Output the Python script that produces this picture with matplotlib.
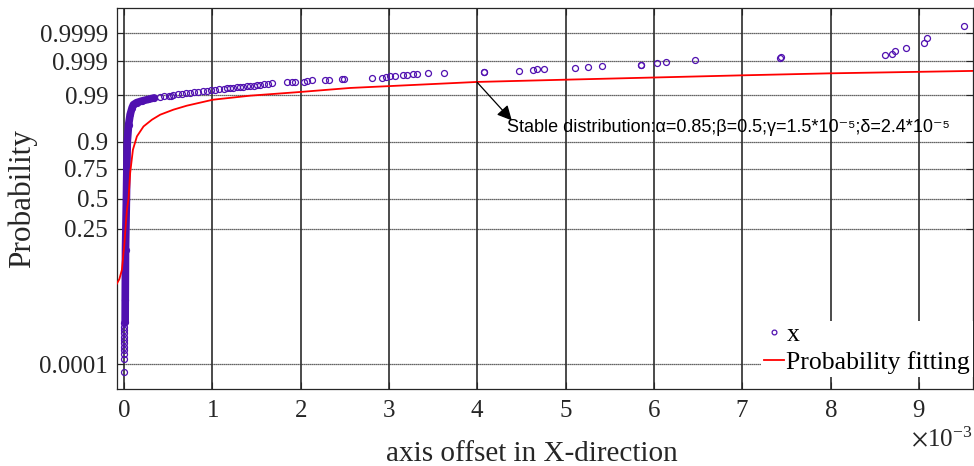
import numpy as np
import matplotlib
matplotlib.use('Agg')
import matplotlib.pyplot as plt
from statistics import NormalDist

# x values in units of 1e-3 (axis offset), y values are probabilities

# lowest observations, stacked near x = 0
low_x = [0.0, 0.0, 0.0, 0.0, 0.0, 0.0, 0.0, 0.0, 0.0, 0.002, 0.002, 0.003]
low_p = [5.1e-5, 1.55e-4, 2.44e-4, 3.4e-4, 4.45e-4, 5.85e-4, 7.57e-4,
         9.74e-4, 1.285e-3, 1.60e-3, 2.03e-3, 2.59e-3]

# dense body of the sample (thousands of overlapping markers)
dense_x = [0.011, 0.012, 0.015, 0.025, 0.035, 0.050, 0.068, 0.090, 0.105,
           0.14, 0.20, 0.27, 0.34]
dense_p = [0.00283, 0.0115, 0.126, 0.49, 0.90, 0.952, 0.971, 0.9797, 0.9828,
           0.9846, 0.9860, 0.9872, 0.9883]

# upper tail, individual points
tail_x = [0.408, 0.455, 0.502, 0.530, 0.558, 0.605, 0.653, 0.700, 0.747,
          0.794, 0.841, 0.889, 0.937, 0.984, 1.031, 1.078, 1.125, 1.160,
          1.200, 1.238, 1.276, 1.313, 1.351, 1.390, 1.427, 1.465, 1.503,
          1.540, 1.578, 1.625, 1.673, 1.843, 1.899, 1.937,
          2.031, 2.069, 2.126, 2.276, 2.325, 2.465, 2.495, 2.805, 2.918,
          2.967, 3.012, 3.069, 3.163, 3.208, 3.270, 3.322, 3.446, 3.624,
          4.070, 4.077, 4.473, 4.628, 4.674, 4.760, 5.108, 5.258, 5.413,
          5.850, 5.855, 6.040, 6.138, 6.463, 7.429, 7.440, 8.622, 8.701,
          8.735, 8.853, 9.060, 9.091, 9.516]
tail_p = [0.98893, 0.98925, 0.98956, 0.98975, 0.98994, 0.99045, 0.99091,
          0.99120, 0.99146, 0.99163, 0.99180, 0.99205, 0.99230, 0.99260,
          0.99290, 0.99312, 0.99334, 0.99348, 0.99362, 0.99374, 0.99386,
          0.99400, 0.99413, 0.99426, 0.99438, 0.99449, 0.99460, 0.99476,
          0.99493, 0.99515, 0.99538, 0.99555,
          0.99557, 0.99560, 0.99567, 0.99584, 0.99610, 0.99628, 0.99630,
          0.99636, 0.99653, 0.99676, 0.99678, 0.99691, 0.99703, 0.99717,
          0.99723, 0.99731, 0.99741, 0.99748, 0.99759, 0.99771, 0.99784,
          0.99781, 0.99801, 0.99810, 0.99819, 0.99828, 0.99840, 0.99848,
          0.99858, 0.99871, 0.99872, 0.99887, 0.99895, 0.99907, 0.99920,
          0.99926, 0.99937, 0.99945, 0.99954, 0.99966, 0.99976, 0.99985,
          0.99995]

# fitted stable distribution CDF
fit_x = [-0.087, -0.055, -0.026, 0.003, 0.020, 0.031, 0.049, 0.068, 0.099,
         0.144, 0.219, 0.314, 0.408, 0.558, 0.710, 1.005, 1.427, 1.993,
         2.559, 3.994, 5.006, 6.995, 7.995, 9.618]
fit_p = [0.0274, 0.0355, 0.055, 0.159, 0.300, 0.400, 0.5, 0.721, 0.865,
         0.9195, 0.948, 0.9622, 0.9706, 0.9774, 0.9818, 0.9870, 0.98975,
         0.9918, 0.99362, 0.99567, 0.99628, 0.99723, 0.99759, 0.99797]

prob_ticks = [0.0001, 0.25, 0.5, 0.75, 0.9, 0.99, 0.999, 0.9999]
prob_labels = ['0.0001', '0.25', '0.5', '0.75', '0.9', '0.99', '0.999', '0.9999']
x_ticks = [0, 1, 2, 3, 4, 5, 6, 7, 8, 9]

annot_text = 'Stable distribution:α=0.85;β=0.5;γ=1.5*10⁻⁵;δ=2.4*10⁻⁵'

purple = '#5010b0'
scale = 1e-3

nd = NormalDist()
_inv_cdf = np.vectorize(nd.inv_cdf, otypes=[float])
_cdf = np.vectorize(nd.cdf, otypes=[float])


def fwd(p):
    p = np.clip(np.asarray(p, dtype=float), 1e-12, 1 - 1e-12)
    return _inv_cdf(p)


def inv(z):
    return _cdf(np.asarray(z, dtype=float))


plt.rcParams['font.family'] = ['Liberation Serif', 'DejaVu Serif']
plt.rcParams['mathtext.fontset'] = 'stix'

fig = plt.figure(figsize=(9.74, 4.66), dpi=100)
ax_h = 389.3 - 8.3
ax_w = 972.7 - 116.5
ax = fig.add_axes([116.5 / 974, 1 - 389.3 / 466, ax_w / 974, ax_h / 466])
ax.set_yscale('function', functions=(fwd, inv))

mk = dict(linestyle='none', marker='o', markersize=4.3, markerfacecolor='none',
          markeredgecolor=purple, markeredgewidth=0.9)

ax.plot(np.array(dense_x) * scale, dense_p, color=purple, lw=5.5,
        solid_capstyle='round', zorder=3)
ax.plot(np.array(dense_x) * scale, dense_p, zorder=3, **mk)
ax.plot(np.array(low_x) * scale, low_p, zorder=3, **mk)
ax.plot(np.array(tail_x) * scale, tail_p, label='x', zorder=3, **mk)
ax.plot(np.array(fit_x) * scale, fit_p, color='red', lw=1.3,
        label='Probability fitting', zorder=4)

ax.set_xlim(-0.087 * scale, 9.61 * scale)
ax.set_ylim(nd.cdf(-4.28), nd.cdf(4.28))

ax.set_yticks(prob_ticks)
ax.set_yticklabels(prob_labels)
ax.set_xticks(np.array(x_ticks) * scale)
ax.minorticks_off()
ax.ticklabel_format(axis='x', style='sci', scilimits=(-3, -3), useMathText=True)

ax.tick_params(direction='in', length=5, width=0.8, top=True, right=True,
               labelsize=18, colors='#262626')
ax.tick_params(axis='y', pad=6)
ax.tick_params(axis='x', pad=8)
ax.xaxis.get_offset_text().set_fontsize(18)
ax.xaxis.get_offset_text().set_color('#262626')

ax.grid(axis='x', color='#1a1a1a', lw=1.1, ls='-')
ax.grid(axis='y', color='#333333', lw=0.9, ls=(0, (1, 0.6)))
ax.set_axisbelow(True)
for s in ax.spines.values():
    s.set_color('#262626')
    s.set_linewidth(0.9)

ax.set_xlabel('axis offset in X-direction', fontsize=21, color='#262626')
ax.xaxis.set_label_coords((532 - 116.5) / ax_w, -(441 - 389.3) / ax_h)
ax.set_ylabel('Probability', fontsize=22.5, color='#262626')
ax.yaxis.set_label_coords(-(116.5 - 37) / ax_w, 0.5)

# arrow from the fitted curve to the parameter text
ax.annotate('', xy=(4.39 * scale, 0.9609), xytext=(3.994 * scale, 0.99567),
            arrowprops=dict(arrowstyle='-|>', color='black', lw=0.9,
                            mutation_scale=22, shrinkA=0, shrinkB=0), zorder=5)
ax.text(4.33 * scale, 0.9449, annot_text, fontsize=13, ha='left', va='center',
        family=['Liberation Sans', 'DejaVu Sans'], color='black', zorder=5)

leg = ax.legend(loc='lower right', bbox_to_anchor=(1.0, (389.3 - 377) / ax_h),
                fontsize=18.5, frameon=True, fancybox=False, borderaxespad=0,
                handlelength=0.8, handletextpad=0.08, borderpad=0.1,
                labelspacing=0.2, markerscale=0.8)
leg.get_frame().set_edgecolor('none')
leg.get_frame().set_facecolor('white')
leg.get_frame().set_alpha(1)

fig.savefig('out.png', dpi=100)
